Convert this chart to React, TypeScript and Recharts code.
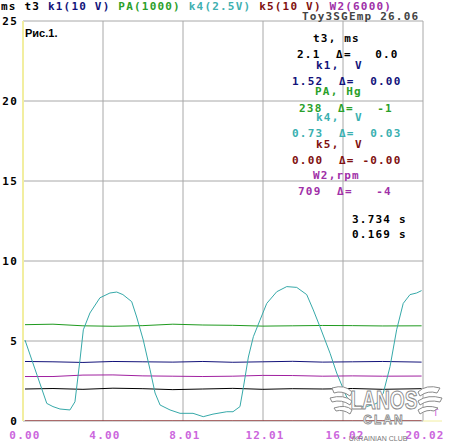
import React from "react";
import { CartesianGrid, Line, LineChart, XAxis, YAxis } from "recharts";

// time axis (s) and tick labels
const xTicks = [0, 4.004, 8.008, 12.012, 16.016, 20.02];
const xTickLabels = ["0.00", "4.00", "8.01", "12.01", "16.02", "20.02"];
const yTicks = [0, 5, 10, 15, 20, 25];

// flat channels share a sparse time base
const flatTimes = [0.1, 1.5, 3, 4.5, 6, 7.5, 9, 10.5, 12, 13.5, 15, 16.5, 18, 19.95];
const paValues = [6.02, 6.05, 5.95, 5.92, 5.96, 6.05, 6.0, 5.98, 5.93, 5.95, 5.97, 5.96, 5.94, 5.95];
const k1Values = [3.72, 3.7, 3.66, 3.72, 3.7, 3.68, 3.72, 3.67, 3.7, 3.73, 3.68, 3.7, 3.72, 3.68];
const w2Values = [2.78, 2.78, 2.87, 2.88, 2.82, 2.8, 2.78, 2.8, 2.85, 2.84, 2.8, 2.82, 2.8, 2.81];
const t3Values = [2.0, 2.03, 1.98, 2.05, 2.02, 1.96, 2.0, 2.04, 1.98, 2.02, 2.0, 2.03, 1.98, 2.02];
const k5Values = [0, 0, 0, 0, 0, 0, 0, 0, 0, 0, 0, 0, 0, 0];

// k4 oscillating channel
const k4Times = [
  0.1, 1.19, 1.5, 1.85, 2.35, 2.6, 2.85, 3.02, 3.35, 3.85, 4.35, 4.69, 5.0, 5.44, 5.69,
  6.02, 6.36, 6.61, 6.86, 7.36, 7.86, 8.51, 9.02, 9.51, 10.2, 10.51, 10.86, 11.03, 11.28,
  11.53, 11.86, 12.2, 12.7, 13.2, 13.7, 14.2, 14.53, 14.86, 15.37, 15.7, 16.2, 16.7, 17.2,
  17.7, 18.03, 18.37, 18.7, 19.03, 19.37, 19.7, 19.95,
];
const k4Values = [
  5.06, 1.1, 0.9, 0.75, 0.69, 1.2, 3.8, 5.7, 6.75, 7.7, 8.0, 8.06, 7.9, 7.46, 6.5,
  5.06, 3.2, 1.75, 1.0, 0.69, 0.48, 0.48, 0.27, 0.43, 0.58, 0.58, 0.9, 2.1, 4.0,
  5.27, 6.3, 7.35, 8.08, 8.4, 8.35, 7.9, 6.94, 5.9, 4.23, 3.0, 1.5, 0.9, 0.9,
  1.1, 1.73, 3.4, 5.7, 7.35, 7.9, 8.0, 8.15,
];

const toSeries = (times: number[], values: number[]) =>
  times.map((t, i) => ({ t, v: values[i] }));

const series = [
  { name: "PA", data: toSeries(flatTimes, paValues), color: "#1f9a1f" },
  { name: "k1", data: toSeries(flatTimes, k1Values), color: "#12127a" },
  { name: "W2", data: toSeries(flatTimes, w2Values), color: "#a020a0" },
  { name: "t3", data: toSeries(flatTimes, t3Values), color: "#000000" },
  { name: "k5", data: toSeries(flatTimes, k5Values), color: "#800000" },
  { name: "k4", data: toSeries(k4Times, k4Values), color: "#36a9a9" },
];

const mono = "'DejaVu Sans Mono', monospace";
const txt = { fontFamily: mono, fontWeight: "bold" as const, fontSize: 11, letterSpacing: 1.2, whiteSpace: "pre" as const };

const YTick = (props: any) => {
  const { y, payload } = props;
  return (
    <text x={18} y={y + 4} textAnchor="end" style={txt} fill="#000">
      {payload.value}
    </text>
  );
};

const XTick = (props: any) => {
  const { x, payload } = props;
  const idx = xTicks.indexOf(payload.value);
  return (
    <text x={x + 2} y={439} textAnchor="middle" style={txt} fill="#cc66dd">
      {idx >= 0 ? xTickLabels[idx] : ""}
    </text>
  );
};

// readout panel lines: [text, x, baseline, colour]
const readout: [string, number, number, string][] = [
  ["t3, ms", 313, 42, "#000000"],
  ["2.1  Δ=   0.0", 297, 58, "#000000"],
  ["k1,  V", 316, 69, "#12127a"],
  ["1.52  Δ=  0.00", 292, 85, "#12127a"],
  ["PA, Hg", 315, 95, "#2aa02a"],
  ["238  Δ=   -1", 299, 112, "#2aa02a"],
  ["k4,  V", 316, 121, "#3ab0b0"],
  ["0.73  Δ=  0.03", 292, 137, "#3ab0b0"],
  ["k5,  V", 316, 148, "#801010"],
  ["0.00  Δ= -0.00", 292, 164, "#801010"],
  ["W2,rpm", 313, 179, "#a030a8"],
  ["709  Δ=   -4", 298, 195, "#a030a8"],
  ["3.734 s", 352, 223, "#000000"],
  ["0.169 s", 352, 238, "#000000"],
];

export default function App() {
  if (typeof document !== "undefined") document.body.style.margin = "0";
  return (
    <div style={{ position: "relative", width: 449, height: 443, background: "#fff" }}>
      <LineChart width={449} height={443} margin={{ top: 21, right: 26, left: 0, bottom: 0 }}>
        <CartesianGrid stroke="#a8a8a8" strokeWidth={1} />
        <XAxis
          type="number"
          dataKey="t"
          domain={[0, 20.02]}
          ticks={xTicks}
          axisLine={false}
          tickLine={false}
          tick={<XTick />}
          height={22}
          allowDataOverflow
        />
        <YAxis
          type="number"
          domain={[0, 25]}
          ticks={yTicks}
          width={23}
          axisLine={{ stroke: "#f2eea0", strokeWidth: 2 }}
          tickLine={false}
          tick={<YTick />}
          allowDataOverflow
        />
        {series.map((s) => (
          <Line
            key={s.name}
            data={s.data}
            dataKey="v"
            type="linear"
            stroke={s.color}
            strokeWidth={1}
            dot={false}
            isAnimationActive={false}
          />
        ))}
      </LineChart>
      <svg width={449} height={443} style={{ position: "absolute", left: 0, top: 0, pointerEvents: "none" }}>
        <text x={1} y={10} style={txt}>
          <tspan fill="#000">ms t3 </tspan>
          <tspan fill="#12127a">k1(10 V) </tspan>
          <tspan fill="#2aa02a">PA(1000) </tspan>
          <tspan fill="#40b0b0">k4(2.5V) </tspan>
          <tspan fill="#801010">k5(10 V) </tspan>
          <tspan fill="#a030a8">W2(6000)</tspan>
        </text>
        <text x={302} y={20} style={txt} fill="#444">
          Toy3SGEmp 26.06
        </text>
        <text x={25} y={37} fontFamily="'Liberation Sans', Arial, sans-serif" fontWeight="bold" fontSize={11} fill="#000">
          Рис.1.
        </text>
        {readout.map(([s, x, y, c], i) => (
          <text key={i} x={x} y={y} style={txt} fill={c}>
            {s}
          </text>
        ))}
        <text x={433} y={416} fontFamily={mono} fontSize={9} fill="#cc66dd">T</text>
        <line x1={423} y1={421} x2={442} y2={421} stroke="#f2eea0" strokeWidth={1} />
        {/* watermark */}
        <g stroke="#8a8a8a" fill="#fff" strokeWidth={1}>
          <path d="M332 388 Q345 384 352 392 L350 396 Q342 390 334 393 Z" />
          <path d="M330 398 Q344 394 352 401 L350 405 Q342 399 332 402 Z" />
          <path d="M334 408 Q346 404 352 410 L350 414 Q343 409 336 411 Z" />
          <path d="M440 388 Q426 384 418 392 L420 396 Q428 390 437 393 Z" />
          <path d="M442 398 Q428 394 418 401 L420 405 Q428 399 440 402 Z" />
          <path d="M438 408 Q426 404 418 410 L420 414 Q427 409 434 411 Z" />
        </g>
        <text
          x={384}
          y={409}
          textAnchor="middle"
          fontFamily="'Liberation Sans Narrow', 'Liberation Sans', sans-serif"
          fontWeight="bold"
          fontSize={24}
          fill="#fff"
          stroke="#8a8a8a"
          strokeWidth={1}
          transform="translate(384 409) scale(0.8 1.1) translate(-384 -409)"
        >
          LANOS
        </text>
        <text
          x={384}
          y={424}
          textAnchor="middle"
          fontFamily="'Liberation Sans', sans-serif"
          fontWeight="bold"
          fontSize={12}
          fill="#fff"
          stroke="#8a8a8a"
          strokeWidth={0.8}
          letterSpacing={2}
        >
          CLAN
        </text>
        <text x={378} y={441} textAnchor="middle" fontFamily="'Liberation Sans', sans-serif" fontSize={7} fill="#777">
          UKRAINIAN CLUB
        </text>
      </svg>
    </div>
  );
}
